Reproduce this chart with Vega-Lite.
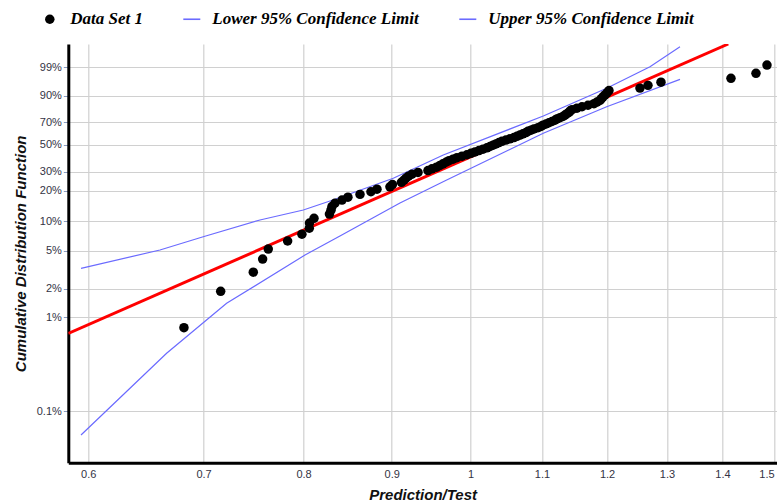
{
  "$schema": "https://vega.github.io/schema/vega-lite/v6.json",
  "width": 708.7,
  "height": 418.7,
  "autosize": {"type": "none"},
  "padding": {"left": 68.3, "top": 44, "right": 0, "bottom": 39.3},
  "background": "white",
  "config": {
    "view": {"stroke": null},
    "font": "Liberation Sans",
    "axis": {
      "gridColor": "#d0d0d0",
      "gridWidth": 1.2,
      "domainColor": "#000000",
      "domainWidth": 3,
      "labelFont": "Liberation Sans",
      "labelFontSize": 11,
      "labelColor": "#333344",
      "titleFont": "Liberation Sans",
      "titleFontSize": 15,
      "titleFontWeight": "bold",
      "titleFontStyle": "italic",
      "titleColor": "#111111"
    }
  },
  "datasets": {
    "sample": [
      {"ratio": 0.6819, "cdf": 0.00774}, {"ratio": 0.7162, "cdf": 0.01881}, {"ratio": 0.7481, "cdf": 0.02987},
      {"ratio": 0.7575, "cdf": 0.04093}, {"ratio": 0.7632, "cdf": 0.05199}, {"ratio": 0.7832, "cdf": 0.06305},
      {"ratio": 0.7983, "cdf": 0.07412}, {"ratio": 0.8062, "cdf": 0.08518}, {"ratio": 0.8064, "cdf": 0.09624},
      {"ratio": 0.8113, "cdf": 0.1073}, {"ratio": 0.8282, "cdf": 0.11836}, {"ratio": 0.8299, "cdf": 0.12942},
      {"ratio": 0.831, "cdf": 0.14049}, {"ratio": 0.8343, "cdf": 0.15155}, {"ratio": 0.8422, "cdf": 0.16261},
      {"ratio": 0.8489, "cdf": 0.17367}, {"ratio": 0.8627, "cdf": 0.18473}, {"ratio": 0.8754, "cdf": 0.1958},
      {"ratio": 0.8825, "cdf": 0.20686}, {"ratio": 0.8979, "cdf": 0.21792}, {"ratio": 0.9009, "cdf": 0.22898},
      {"ratio": 0.9118, "cdf": 0.24004}, {"ratio": 0.9149, "cdf": 0.25111}, {"ratio": 0.9173, "cdf": 0.26217},
      {"ratio": 0.9204, "cdf": 0.27323}, {"ratio": 0.9247, "cdf": 0.28429}, {"ratio": 0.9322, "cdf": 0.29535},
      {"ratio": 0.9447, "cdf": 0.30642}, {"ratio": 0.9497, "cdf": 0.31748}, {"ratio": 0.9555, "cdf": 0.32854},
      {"ratio": 0.9599, "cdf": 0.3396}, {"ratio": 0.9638, "cdf": 0.35066}, {"ratio": 0.9677, "cdf": 0.36173},
      {"ratio": 0.9716, "cdf": 0.37279}, {"ratio": 0.9768, "cdf": 0.38385}, {"ratio": 0.982, "cdf": 0.39491},
      {"ratio": 0.9886, "cdf": 0.40597}, {"ratio": 0.9952, "cdf": 0.41704}, {"ratio": 1.0005, "cdf": 0.4281},
      {"ratio": 1.0059, "cdf": 0.43916}, {"ratio": 1.0113, "cdf": 0.45022}, {"ratio": 1.0167, "cdf": 0.46128},
      {"ratio": 1.0221, "cdf": 0.47235}, {"ratio": 1.0263, "cdf": 0.48341}, {"ratio": 1.0304, "cdf": 0.49447},
      {"ratio": 1.0345, "cdf": 0.50553}, {"ratio": 1.0387, "cdf": 0.51659}, {"ratio": 1.0428, "cdf": 0.52765},
      {"ratio": 1.0484, "cdf": 0.53872}, {"ratio": 1.054, "cdf": 0.54978}, {"ratio": 1.0597, "cdf": 0.56084},
      {"ratio": 1.0639, "cdf": 0.5719}, {"ratio": 1.0682, "cdf": 0.58296}, {"ratio": 1.0725, "cdf": 0.59403},
      {"ratio": 1.0768, "cdf": 0.60509}, {"ratio": 1.0797, "cdf": 0.61615}, {"ratio": 1.084, "cdf": 0.62721},
      {"ratio": 1.0884, "cdf": 0.63827}, {"ratio": 1.0942, "cdf": 0.64934}, {"ratio": 1.0986, "cdf": 0.6604},
      {"ratio": 1.1015, "cdf": 0.67146}, {"ratio": 1.106, "cdf": 0.68252}, {"ratio": 1.1104, "cdf": 0.69358},
      {"ratio": 1.1149, "cdf": 0.70465}, {"ratio": 1.1193, "cdf": 0.71571}, {"ratio": 1.1223, "cdf": 0.72677},
      {"ratio": 1.1268, "cdf": 0.73783}, {"ratio": 1.1314, "cdf": 0.74889}, {"ratio": 1.1344, "cdf": 0.75996},
      {"ratio": 1.1374, "cdf": 0.77102}, {"ratio": 1.1405, "cdf": 0.78208}, {"ratio": 1.142, "cdf": 0.79314},
      {"ratio": 1.1451, "cdf": 0.8042}, {"ratio": 1.1527, "cdf": 0.81527}, {"ratio": 1.1605, "cdf": 0.82633},
      {"ratio": 1.1698, "cdf": 0.83739}, {"ratio": 1.1792, "cdf": 0.84845}, {"ratio": 1.1839, "cdf": 0.85951},
      {"ratio": 1.1887, "cdf": 0.87058}, {"ratio": 1.1911, "cdf": 0.88164}, {"ratio": 1.1935, "cdf": 0.8927},
      {"ratio": 1.1967, "cdf": 0.90376}, {"ratio": 1.1999, "cdf": 0.91482}, {"ratio": 1.2031, "cdf": 0.92589},
      {"ratio": 1.2539, "cdf": 0.93695}, {"ratio": 1.2674, "cdf": 0.94801}, {"ratio": 1.2896, "cdf": 0.95907},
      {"ratio": 1.416, "cdf": 0.97013}, {"ratio": 1.4641, "cdf": 0.98119}, {"ratio": 1.4858, "cdf": 0.99226}
    ],
    "bounds": [
      {"series": "Lower 95% Confidence Limit", "ratio": 0.5943, "cdf": 0.00056},
      {"series": "Lower 95% Confidence Limit", "ratio": 0.6663, "cdf": 0.00414},
      {"series": "Lower 95% Confidence Limit", "ratio": 0.7219, "cdf": 0.01404},
      {"series": "Lower 95% Confidence Limit", "ratio": 0.8016, "cdf": 0.04516},
      {"series": "Lower 95% Confidence Limit", "ratio": 0.8399, "cdf": 0.07096},
      {"series": "Lower 95% Confidence Limit", "ratio": 0.91, "cdf": 0.1524},
      {"series": "Lower 95% Confidence Limit", "ratio": 0.9686, "cdf": 0.2521},
      {"series": "Lower 95% Confidence Limit", "ratio": 1.102, "cdf": 0.5987},
      {"series": "Lower 95% Confidence Limit", "ratio": 1.1994, "cdf": 0.8266},
      {"series": "Lower 95% Confidence Limit", "ratio": 1.3228, "cdf": 0.9676},
      {"series": "Upper 95% Confidence Limit", "ratio": 0.5943, "cdf": 0.0328},
      {"series": "Upper 95% Confidence Limit", "ratio": 0.6604, "cdf": 0.0509},
      {"series": "Upper 95% Confidence Limit", "ratio": 0.6997, "cdf": 0.0698},
      {"series": "Upper 95% Confidence Limit", "ratio": 0.7548, "cdf": 0.1033},
      {"series": "Upper 95% Confidence Limit", "ratio": 0.7998, "cdf": 0.13},
      {"series": "Upper 95% Confidence Limit", "ratio": 0.8288, "cdf": 0.1594},
      {"series": "Upper 95% Confidence Limit", "ratio": 0.9019, "cdf": 0.2614},
      {"series": "Upper 95% Confidence Limit", "ratio": 0.9642, "cdf": 0.4151},
      {"series": "Upper 95% Confidence Limit", "ratio": 1.102, "cdf": 0.7522},
      {"series": "Upper 95% Confidence Limit", "ratio": 1.1994, "cdf": 0.9362},
      {"series": "Upper 95% Confidence Limit", "ratio": 1.2708, "cdf": 0.99065},
      {"series": "Upper 95% Confidence Limit", "ratio": 1.3228, "cdf": 0.99951}
    ],
    "fit": [
      {"ratio": 0.5843, "cdf": 0.006739},
      {"ratio": 1.4109, "cdf": 0.999712}
    ]
  },
  "encoding": {
    "x": {
      "field": "ratio",
      "type": "quantitative",
      "scale": {"type": "log", "domain": [0.5843, 1.5058], "nice": false, "zero": false},
      "axis": {
        "title": "Prediction/Test",
        "values": [0.6, 0.7, 0.8, 0.9, 1, 1.1, 1.2, 1.3, 1.4, 1.5],
        "format": ".1~f",
        "ticks": false,
        "labelFlush": 3,
        "labelPadding": 6,
        "titlePadding": 8,
        "grid": true
      }
    },
    "y": {
      "field": "hazard",
      "type": "quantitative",
      "scale": {"type": "log", "domain": [0.000284, 8.152], "nice": false, "zero": false},
      "axis": {
        "title": "Cumulative Distribution Function",
        "values": [0.0010005, 0.0100503, 0.0202027, 0.0512933, 0.1053605, 0.2231436, 0.3566749, 0.6931472, 1.2039728, 2.3025851, 4.6051702],
        "labelExpr": "format(1 - exp(-datum.value), datum.value < 0.005 ? '.1%' : '.0%')",
        "tickSize": 5,
        "tickColor": "#8b9bc0",
        "labelPadding": 2,
        "titlePadding": 8,
        "grid": true
      }
    }
  },
  "layer": [
    {
      "data": {"name": "bounds"},
      "transform": [{"calculate": "-log(1 - datum.cdf)", "as": "hazard"}],
      "mark": {"type": "line", "strokeWidth": 1.2, "clip": true},
      "encoding": {
        "color": {
          "field": "series",
          "type": "nominal",
          "scale": {"domain": ["Data Set 1", "Lower 95% Confidence Limit", "Upper 95% Confidence Limit"], "range": ["#000000", "#6b6bff", "#6b6bff"]},
          "legend": {
            "title": null,
            "orient": "none",
            "legendX": -27,
            "legendY": -33.5,
            "direction": "horizontal",
            "columns": 3,
            "columnPadding": 36,
            "padding": 0,
            "symbolSize": 289,
            "labelFont": "Liberation Serif",
            "labelFontSize": 17,
            "labelFontWeight": "bold",
            "labelFontStyle": "italic",
            "labelColor": "#000000",
            "labelOffset": 12,
            "labelLimit": 0,
            "encode": {
              "symbols": {
                "update": {
                  "shape": {"signal": "datum.value === 'Data Set 1' ? 'circle' : 'stroke'"},
                  "size": {"signal": "datum.value === 'Data Set 1' ? 90 : 289"},
                  "fill": {"signal": "datum.value === 'Data Set 1' ? '#000000' : 'transparent'"},
                  "stroke": {"signal": "datum.value === 'Data Set 1' ? '#000000' : '#6b6bff'"},
                  "strokeWidth": {"signal": "datum.value === 'Data Set 1' ? 0 : 1.6"},
                  "opacity": {"value": 1}
                }
              }
            }
          }
        }
      }
    },
    {
      "data": {"name": "fit"},
      "transform": [{"calculate": "-log(1 - datum.cdf)", "as": "hazard"}],
      "mark": {"type": "line", "color": "#ff0000", "strokeWidth": 3, "clip": true},
      "encoding": {}
    },
    {
      "data": {"name": "sample"},
      "transform": [
        {"calculate": "-log(1 - datum.cdf)", "as": "hazard"},
        {"calculate": "'Data Set 1'", "as": "series"}
      ],
      "mark": {"type": "point", "filled": true, "size": 90, "opacity": 1, "clip": true},
      "encoding": {
        "color": {
          "field": "series",
          "type": "nominal",
          "scale": {"domain": ["Data Set 1", "Lower 95% Confidence Limit", "Upper 95% Confidence Limit"], "range": ["#000000", "#6b6bff", "#6b6bff"]}
        }
      }
    }
  ]
}
